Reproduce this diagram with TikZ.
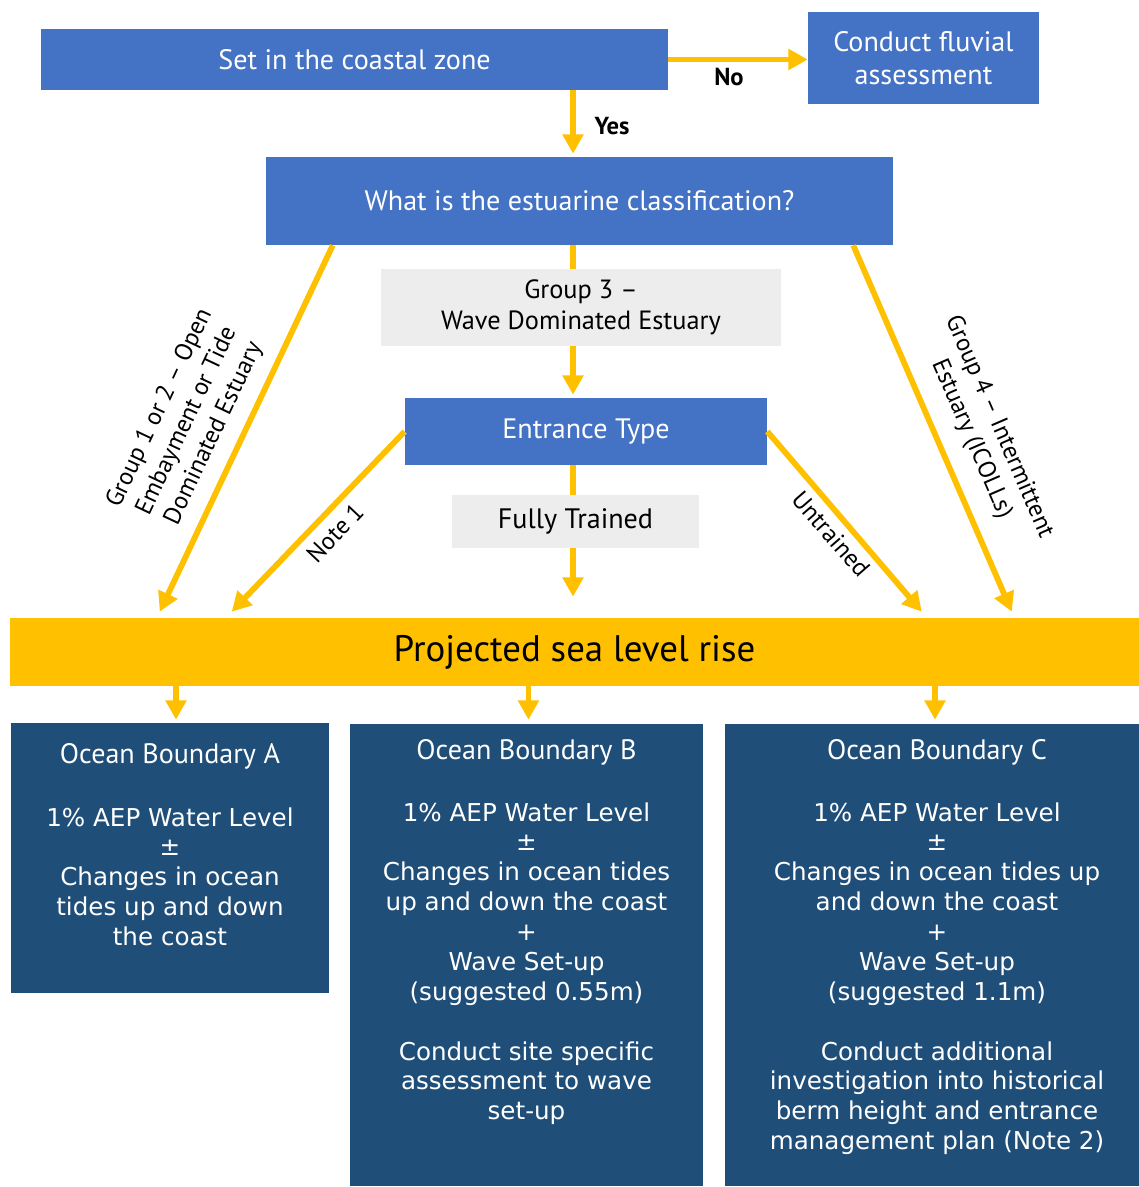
\documentclass[tikz,border=0pt]{standalone}
\usepackage{fontspec}
\setmainfont{DejaVu Sans}
\newfontfamily\headfont{PT Sans}
\usetikzlibrary{arrows.meta,calc}

\definecolor{stepblue}{HTML}{4472C4}
\definecolor{oceanblue}{HTML}{1F4E79}
\definecolor{flowyellow}{HTML}{FFC000}
\definecolor{notegrey}{HTML}{EDEDED}

\begin{document}
\begin{tikzpicture}[x=0.02cm, y=-0.02cm,
    stepbox/.style={fill=stepblue, text=white, inner sep=0pt, align=center,
        font=\headfont\fontsize{16}{19}\selectfont},
    notebox/.style={fill=notegrey, inner sep=0pt, align=center,
        font=\headfont\fontsize{15}{18}\selectfont},
    oceanbox/.style={fill=oceanblue, inner sep=0pt},
    oceantitle/.style={text=white, anchor=base, inner sep=0pt,
        font=\headfont\fontsize{16}{19}\selectfont},
    oceantext/.style={text=white, anchor=north, inner sep=0pt, align=center,
        font=\fontsize{14}{17}\selectfont},
    flow/.style={draw=flowyellow, line width=3.3pt,
        -{Triangle[width=11.5pt,length=11pt]}},
    edgetext/.style={inner sep=0pt, align=center,
        font=\headfont\fontsize{14}{17}\selectfont},
    answer/.style={inner sep=0pt, font=\headfont\bfseries\fontsize{14}{17}\selectfont}]

    \useasboundingbox (0,0) rectangle (1139,1187);

    % top of the chart
    \node [stepbox, minimum width=12.54cm, minimum height=1.22cm] (coastal) at (354.5,59.5)
        {Set in the coastal zone};
    \node [stepbox, minimum width=4.62cm, minimum height=1.84cm] (fluvial) at (923.5,58)
        {Conduct fluvial\\assessment};
    \node [stepbox, minimum width=12.54cm, minimum height=1.76cm] (classify) at (579.5,201)
        {What is the estuarine classification?};
    \node [stepbox, minimum width=7.24cm, minimum height=1.34cm] (entrance) at (586,431.5)
        {Entrance Type};
    \node [fill=flowyellow, inner sep=0pt, minimum width=22.58cm, minimum height=1.36cm,
        font=\headfont\fontsize{21}{25}\selectfont] (sealevel) at (574.5,652)
        {Projected sea level rise};
    \coordinate (spine) at (573,0);

    \draw [flow] (coastal.east) -- (coastal.east -| fluvial.west);
    \node [answer] (no) at (729,77) {No};
    \draw [flow] (coastal.south -| spine) -- ($(classify.north -| spine)+(0,-3)$);
    \node [answer] (yes) at (612,126) {Yes};

    % group 3 goes through the entrance type
    \draw [flow] (classify.south -| spine) -- ($(entrance.north -| spine)+(0,-3)$);
    \node [notebox, minimum width=8cm, minimum height=1.54cm] (group3) at (581,307.5)
        {Group 3 –\\Wave Dominated Estuary};
    \draw [flow] (entrance.south -| spine) -- ($(sealevel.north -| spine)+(0,-21)$);
    \node [notebox, minimum width=4.94cm, minimum height=1.06cm,
        font=\headfont\fontsize{16}{19}\selectfont] (trained) at (575.5,521.5)
        {Fully Trained};

    \draw [flow] ($(classify.south west)+(67,0)$) -- ($(sealevel.north west)+(150,-6)$);
    \node [edgetext, rotate=64.8] (group12) at (187,421)
        {Group 1 or 2 – Open\\Embayment or Tide\\Dominated Estuary};
    \draw [flow] (entrance.west) -- ($(sealevel.north west)+(222,-6)$);
    \node [edgetext, rotate=46.5] (note1) at (335,533) {Note 1};
    \draw [flow] (entrance.east) -- ($(sealevel.north west)+(912,-6)$);
    \node [edgetext, rotate=-49] (untrained) at (831,534) {Untrained};
    \draw [flow] ($(classify.south east)+(-40,0)$) -- ($(sealevel.north west)+(1002,-6)$);
    \node [edgetext, rotate=-66.6] (group4) at (985,433)
        {Group 4 – Intermittent\\Estuary (ICOLLs)};

    % ocean boundaries
    \node [oceanbox, minimum width=6.36cm, minimum height=5.4cm] (oceanA) at (170,858) {};
    \node [oceanbox, minimum width=7.06cm, minimum height=9.24cm] (oceanB) at (526.5,955) {};
    \node [oceanbox, minimum width=8.28cm, minimum height=9.24cm] (oceanC) at (932,955) {};

    \draw [flow] ($(sealevel.south -| oceanA)+(6,0)$) -- ($(oceanA.north)+(6,-3)$);
    \draw [flow] ($(sealevel.south -| oceanB)+(2,0)$) -- ($(oceanB.north)+(2,-4)$);
    \draw [flow] ($(sealevel.south -| oceanC)+(3,0)$) -- ($(oceanC.north)+(3,-4)$);

    \node [oceantitle] (titleA) at (170,763) {Ocean Boundary A};
    \node [oceantext] (textA) at (170,807)
        {1\% AEP Water Level\\±\\Changes in ocean\\tides up and down\\the coast};

    \node [oceantitle] (titleB) at (526.5,759) {Ocean Boundary B};
    \node [oceantext] (textB) at (526.5,802)
        {1\% AEP Water Level\\±\\Changes in ocean tides\\up and down the coast\\+\\Wave Set-up\\(suggested 0.55m)\\[17pt]
         Conduct site specific\\assessment to wave\\set-up};

    \node [oceantitle] (titleC) at (937,759) {Ocean Boundary C};
    \node [oceantext] (textC) at (937,802)
        {1\% AEP Water Level\\±\\Changes in ocean tides up\\and down the coast\\+\\Wave Set-up\\(suggested 1.1m)\\[17pt]
         Conduct additional\\investigation into historical\\berm height and entrance\\management plan (Note 2)};
\end{tikzpicture}
\end{document}
